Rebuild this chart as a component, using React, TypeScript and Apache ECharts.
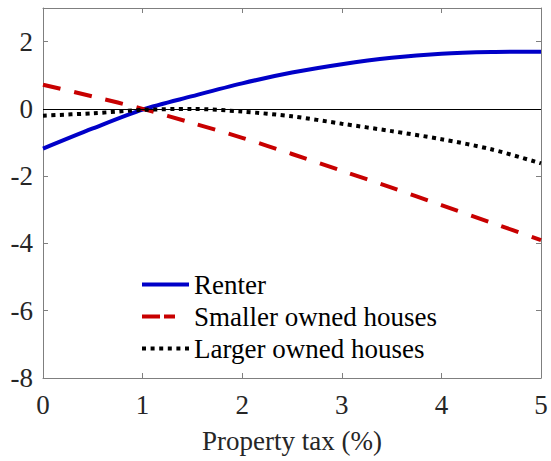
import React, { useEffect, useRef } from "react";
import * as echarts from "echarts";

const xValues = [0, 0.5, 1, 1.5, 2, 2.5, 3, 3.5, 4, 4.5, 5];
const renter = [-1.18, -0.58, -0.02, 0.38, 0.76, 1.08, 1.33, 1.52, 1.64, 1.69, 1.7];
const smaller = [0.72, 0.37, 0.0, -0.42, -0.86, -1.34, -1.84, -2.34, -2.86, -3.38, -3.9];
const larger = [-0.2, -0.13, -0.03, 0.0, -0.08, -0.22, -0.44, -0.66, -0.9, -1.2, -1.62];
const seriesNames = ["Renter", "Smaller owned houses", "Larger owned houses"];
const xTicks = [0, 1, 2, 3, 4, 5];
const yTicks = [-8, -6, -4, -2, 0, 2];

const FONT = "Liberation Serif, Tinos, Times New Roman, DejaVu Serif, serif";
const AXIS_COLOR = "#7f7f7f";
const TEXT_COLOR = "#262626";
const FS = 27;

const ICON_SOLID = "path://M0,0 H47 V4 H0 Z";
const ICON_DASH = "path://M0,0 H18 V4 H0 Z M22,0 H33 V4 H22 Z M47,0 H47 V4 H47 Z";
const ICON_DOT =
  "path://M0,0 H4 V4 H0 Z M8.6,0 H12.6 V4 H8.6 Z M17.2,0 H21.2 V4 H17.2 Z M25.8,0 H29.8 V4 H25.8 Z M34.4,0 H38.4 V4 H34.4 Z M43,0 H47 V4 H43 Z";

export default function App() {
  const ref = useRef<HTMLDivElement>(null);
  useEffect(() => {
    if (!ref.current) return;
    const chart = echarts.init(ref.current, undefined, { renderer: "svg" });
    const pair = (ys: number[]) => xValues.map((x, i) => [x, ys[i]]);
    const commonX = {
      type: "value",
      min: 0,
      max: 5,
      interval: 1,
      splitLine: { show: false },
      axisLine: { show: true, onZero: false, lineStyle: { color: AXIS_COLOR, width: 1 } },
      axisTick: { show: true, inside: true, length: 5, lineStyle: { color: AXIS_COLOR } },
    };
    const commonY = {
      type: "value",
      min: -8,
      max: 3,
      interval: 2,
      splitLine: { show: false },
      axisLine: { show: true, onZero: false, lineStyle: { color: AXIS_COLOR, width: 1 } },
      axisTick: { show: true, inside: true, length: 5, lineStyle: { color: AXIS_COLOR } },
    };
    chart.setOption({
      animation: false,
      backgroundColor: "#ffffff",
      textStyle: { fontFamily: FONT },
      grid: { left: 43, right: 10, top: 8, bottom: 83, containLabel: false },
      legend: {
        show: true,
        data: [
          { name: seriesNames[0], icon: ICON_SOLID },
          { name: seriesNames[1], icon: ICON_DASH },
          { name: seriesNames[2], icon: ICON_DOT },
        ],
        orient: "vertical",
        left: 142,
        top: 271,
        padding: 0,
        itemWidth: 47,
        itemHeight: 4,
        itemGap: 5,
        textStyle: { fontFamily: FONT, fontSize: FS, color: "#000" },
      },
      xAxis: [
        {
          ...commonX,
          position: "bottom",
          name: "Property tax (%)",
          nameLocation: "middle",
          nameGap: 49,
          nameTextStyle: { fontFamily: FONT, fontSize: FS, color: TEXT_COLOR },
          axisLabel: {
            show: true,
            margin: 13,
            fontFamily: FONT,
            fontSize: FS,
            color: TEXT_COLOR,
            customValues: xTicks,
          },
        },
        {
          ...commonX,
          position: "top",
          axisLabel: { show: false },
        },
      ],
      yAxis: [
        {
          ...commonY,
          position: "left",
          axisLabel: {
            show: true,
            margin: 10,
            fontFamily: FONT,
            fontSize: FS,
            color: TEXT_COLOR,
            showMaxLabel: false,
            formatter: (v: number) => (yTicks.includes(v) ? String(v) : ""),
          },
        },
        {
          ...commonY,
          position: "right",
          axisLabel: { show: false },
        },
      ],
      series: [
        {
          name: seriesNames[0],
          type: "line",
          data: pair(renter),
          smooth: 0.3,
          showSymbol: false,
          symbol: "none",
          lineStyle: { color: "#0000c8", width: 4, type: "solid" },
          itemStyle: { color: "#0000c8" },
          z: 3,
          markLine: {
            silent: true,
            symbol: "none",
            label: { show: false },
            lineStyle: { color: "#000", width: 1, type: "solid" },
            data: [{ yAxis: 0 }],
          },
        },
        {
          name: seriesNames[1],
          type: "line",
          data: pair(smaller),
          smooth: 0.3,
          showSymbol: false,
          symbol: "none",
          lineStyle: { color: "#c80000", width: 4, type: [18, 14] },
          itemStyle: { color: "#c80000" },
          z: 4,
        },
        {
          name: seriesNames[2],
          type: "line",
          data: pair(larger),
          smooth: 0.3,
          showSymbol: false,
          symbol: "none",
          lineStyle: { color: "#000000", width: 4, type: [4, 4.5] },
          itemStyle: { color: "#000000" },
          z: 5,
        },
      ],
    });
    return () => chart.dispose();
  }, []);
  return (
    <div
      ref={ref}
      style={{ position: "absolute", left: 0, top: 0, width: 551, height: 461, background: "#fff" }}
    />
  );
}
